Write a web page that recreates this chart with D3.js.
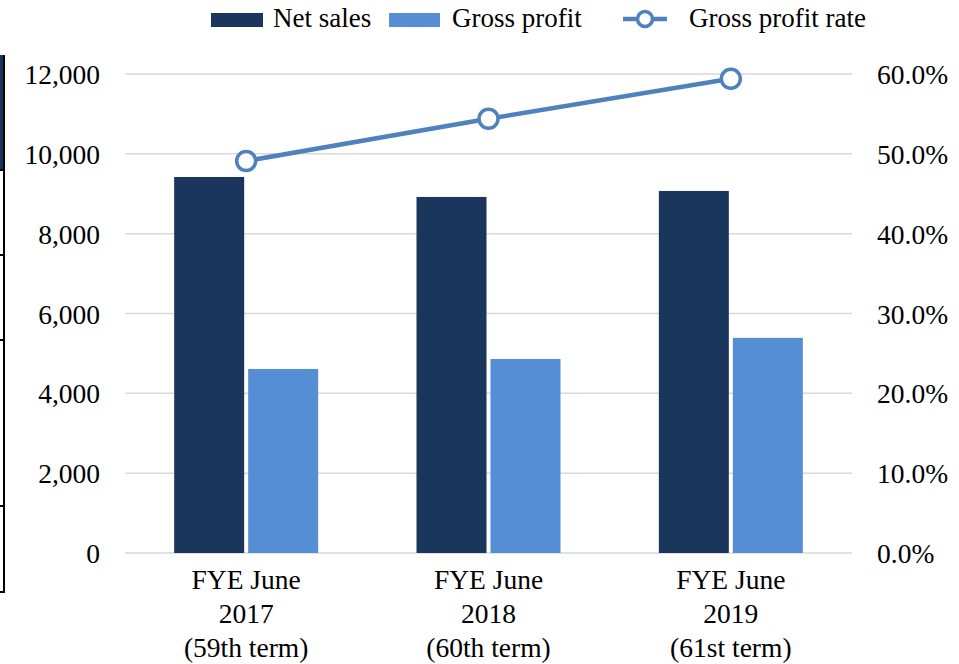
<!DOCTYPE html>
<html>
<head>
<meta charset="utf-8">
<script src="https://cdn.jsdelivr.net/npm/d3@7"></script>
<style>
  body { margin: 0; background: #fff; }
  svg text { font-family: "Liberation Serif", "Times New Roman", serif; fill: #000; }
</style>
</head>
<body>
<div id="content"></div>
<script>
// data
var categories = ['FYE June|2017|(59th term)', 'FYE June|2018|(60th term)', 'FYE June|2019|(61st term)'];
var netSales = [9420, 8920, 9070];
var grossProfit = [4610, 4860, 5390];
var grossRate = [49.1, 54.4, 59.4];
var leftTicks = [0, 2000, 4000, 6000, 8000, 10000, 12000];
var rightTicks = [0, 10, 20, 30, 40, 50, 60];

var navy = '#1a365d', lightBlue = '#558ed5', lineBlue = '#4f81bd';
var fontSize = 27.5;

var width = 959, height = 664;
var plot = {left: 125, right: 852, top: 74, bottom: 553};

var svg = d3.select('#content')
  .append('svg')
  .attr('width', width)
  .attr('height', height);

var x = d3.scaleBand().domain(categories).range([plot.left, plot.right]).padding(0);
var x1 = d3.scaleBand().domain(['net', 'gp']).range([-72, 72]).paddingInner(4 / 74);
var y = d3.scaleLinear().domain([0, 12000]).range([plot.bottom, plot.top]);
var y2 = d3.scaleLinear().domain([0, 60]).range([plot.bottom, plot.top]);

// bits of a table border cropped in on the left side
svg.append('rect').attr('x', 0).attr('y', 55).attr('width', 4).attr('height', 115).attr('fill', navy);
svg.append('line').attr('x1', 4).attr('x2', 4).attr('y1', 55).attr('y2', 592)
  .attr('stroke', '#000').attr('stroke-width', 2);
[170, 255, 340, 506, 592].forEach(function(t) {
  svg.append('line').attr('x1', 0).attr('x2', 5).attr('y1', t).attr('y2', t)
    .attr('stroke', '#000').attr('stroke-width', 2);
});

// gridlines
svg.append('g')
  .selectAll('line')
  .data(leftTicks)
  .join('line')
    .attr('x1', plot.left).attr('x2', plot.right)
    .attr('y1', function(d) { return y(d); })
    .attr('y2', function(d) { return y(d); })
    .attr('stroke', '#d9d9d9')
    .attr('stroke-width', 1.5);

// left axis
var leftAxis = d3.axisLeft(y).tickValues(leftTicks).tickSize(0).tickPadding(0)
  .tickFormat(d3.format(','));
var gl = svg.append('g').attr('transform', 'translate(100,0)').call(leftAxis);
gl.select('.domain').remove();
gl.selectAll('text').attr('font-size', fontSize).attr('dy', '0.35em').style('font-family', '"Liberation Serif", serif');

// right axis
var rightAxis = d3.axisRight(y2).tickValues(rightTicks).tickSize(0).tickPadding(0)
  .tickFormat(function(d) { return d.toFixed(1) + '%'; });
var gr = svg.append('g').attr('transform', 'translate(877,0)').call(rightAxis);
gr.select('.domain').remove();
gr.selectAll('text').attr('font-size', fontSize).attr('dy', '0.35em').style('font-family', '"Liberation Serif", serif');

// bars
var groups = svg.append('g')
  .selectAll('g')
  .data(categories)
  .join('g')
    .attr('transform', function(d) { return 'translate(' + (x(d) + x.bandwidth() / 2) + ',0)'; });

groups.append('rect')
  .attr('x', x1('net'))
  .attr('width', x1.bandwidth())
  .attr('y', function(d, i) { return y(netSales[i]); })
  .attr('height', function(d, i) { return y(0) - y(netSales[i]); })
  .attr('fill', navy);

groups.append('rect')
  .attr('x', x1('gp'))
  .attr('width', x1.bandwidth())
  .attr('y', function(d, i) { return y(grossProfit[i]); })
  .attr('height', function(d, i) { return y(0) - y(grossProfit[i]); })
  .attr('fill', lightBlue);

// category labels
groups.append('text')
  .attr('text-anchor', 'middle')
  .attr('font-size', fontSize)
  .selectAll('tspan')
  .data(function(d) { return d.split('|'); })
  .join('tspan')
    .attr('x', 0)
    .attr('y', function(d, i) { return 589 + i * 34; })
    .text(function(d) { return d; });

// gross profit rate line
var line = d3.line()
  .x(function(d, i) { return x(categories[i]) + x.bandwidth() / 2; })
  .y(function(d) { return y2(d); });

svg.append('path')
  .datum(grossRate)
  .attr('d', line)
  .attr('fill', 'none')
  .attr('stroke', lineBlue)
  .attr('stroke-width', 4.5);

svg.append('g')
  .selectAll('circle')
  .data(grossRate)
  .join('circle')
    .attr('cx', function(d, i) { return x(categories[i]) + x.bandwidth() / 2; })
    .attr('cy', function(d) { return y2(d); })
    .attr('r', 9.5)
    .attr('fill', '#fff')
    .attr('stroke', lineBlue)
    .attr('stroke-width', 3.5);

// legend
var legend = svg.append('g');
legend.append('rect').attr('x', 211).attr('y', 13).attr('width', 52).attr('height', 14).attr('fill', navy);
legend.append('text').attr('x', 273).attr('y', 27).attr('font-size', 27).text('Net sales');
legend.append('rect').attr('x', 389).attr('y', 13).attr('width', 51).attr('height', 14).attr('fill', lightBlue);
legend.append('text').attr('x', 452).attr('y', 27).attr('font-size', 27).text('Gross profit');
legend.append('line').attr('x1', 623).attr('x2', 667).attr('y1', 19).attr('y2', 19)
  .attr('stroke', lineBlue).attr('stroke-width', 4.5);
legend.append('circle').attr('cx', 645).attr('cy', 19).attr('r', 7.5)
  .attr('fill', '#fff').attr('stroke', lineBlue).attr('stroke-width', 3.5);
legend.append('text').attr('x', 689).attr('y', 27).attr('font-size', 27).text('Gross profit rate');
</script>
</body>
</html>
